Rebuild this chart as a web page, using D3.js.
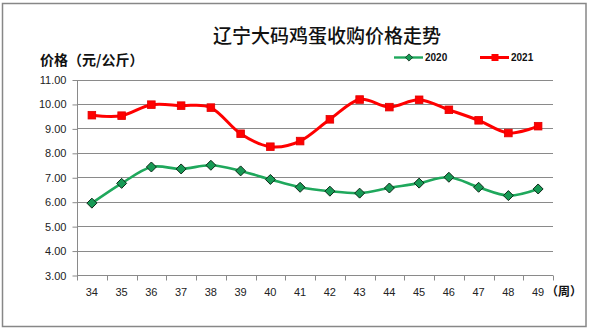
<!DOCTYPE html>
<html><head><meta charset="utf-8">
<script src="https://cdn.jsdelivr.net/npm/d3@7"></script>
<style>html,body{margin:0;padding:0;background:#fff;}svg{display:block;}</style>
</head><body>
<script>
const weeks = ["34","35","36","37","38","39","40","41","42","43","44","45","46","47","48","49"];
const series2020 = [5.94,6.75,7.42,7.34,7.49,7.26,6.91,6.59,6.43,6.35,6.56,6.76,7.00,6.59,6.25,6.52];
const series2021 = [9.54,9.52,9.97,9.93,9.85,8.78,8.25,8.48,9.37,10.18,9.87,10.17,9.76,9.33,8.81,9.09];
const yTicks = [3,4,5,6,7,8,9,10,11];
const seriesNames = ["2020","2021"];

const W = 595, H = 329;
const svg = d3.select("body").append("svg").attr("width", W).attr("height", H);

// frame
svg.append("rect").attr("x", 2.5).attr("y", 3.5).attr("width", 583.5).attr("height", 323)
  .attr("fill", "#fff").attr("stroke", "#878787").attr("stroke-width", 1.5);

const x = d3.scaleBand().domain(weeks).range([77, 553]);
const y = d3.scaleLinear().domain([3, 11]).range([275, 79.5]);

// gridlines
svg.append("g").selectAll("line").data(yTicks.slice(1)).join("line")
  .attr("x1", 77).attr("x2", 553)
  .attr("y1", d => Math.round(y(d)) + 0.5).attr("y2", d => Math.round(y(d)) + 0.5)
  .attr("stroke", "#8a8a8a").attr("stroke-width", 1);

// y axis
const yAxis = d3.axisLeft(y).tickValues(yTicks).tickFormat(d3.format(".2f")).tickSize(5).tickPadding(6);
const gy = svg.append("g").attr("transform", "translate(77.5,0.5)").call(yAxis);
gy.select(".domain").attr("stroke", "#8a8a8a").attr("d", "M0," + y(3) + "V" + y(11));
gy.selectAll(".tick line").attr("stroke", "#8a8a8a");
gy.selectAll(".tick text").attr("font-family", "Liberation Sans, sans-serif").attr("font-size", 11).attr("fill", "#222");

// x axis
const xAxis = d3.axisBottom(x).tickSize(0).tickPadding(13);
const gx = svg.append("g").attr("transform", "translate(0," + (Math.round(y(3)) + 0.5) + ")").call(xAxis);
gx.select(".domain").attr("stroke", "#8a8a8a").attr("d", "M77,0H553");
gx.selectAll(".tick text").attr("font-family", "Liberation Sans, sans-serif").attr("font-size", 11).attr("fill", "#222");
// category boundary ticks
const bounds = weeks.map(w => x(w)).concat([x(weeks[weeks.length - 1]) + x.bandwidth()]);
gx.append("g").selectAll("line").data(bounds).join("line")
  .attr("x1", d => Math.round(d) + 0.5).attr("x2", d => Math.round(d) + 0.5)
  .attr("y1", 0).attr("y2", 5).attr("stroke", "#8a8a8a");

const cx = w => x(w) + x.bandwidth() / 2;
const curve = d3.curveCardinal.tension(0);

// 2020 line
const line2020 = d3.line().x((d, i) => cx(weeks[i])).y(d => y(d)).curve(curve);
svg.append("path").attr("d", line2020(series2020)).attr("fill", "none")
  .attr("stroke", "#1fa85c").attr("stroke-width", 2.6);
// 2021 line
svg.append("path").attr("d", line2020(series2021)).attr("fill", "none")
  .attr("stroke", "#ff0000").attr("stroke-width", 3);

// markers 2020 diamonds
const dia = (cxp, cyp, r) => `M${cxp},${cyp - r}L${cxp + r},${cyp}L${cxp},${cyp + r}L${cxp - r},${cyp}Z`;
svg.append("g").selectAll("path").data(series2020).join("path")
  .attr("d", (d, i) => dia(cx(weeks[i]), y(d), 5))
  .attr("fill", "#179a55").attr("stroke", "#0d2a18").attr("stroke-width", 1);
// markers 2021 squares
svg.append("g").selectAll("rect").data(series2021).join("rect")
  .attr("x", (d, i) => cx(weeks[i]) - 3.8).attr("y", d => y(d) - 3.8)
  .attr("width", 7.6).attr("height", 7.6)
  .attr("fill", "#ff0000").attr("stroke", "#e00000").attr("stroke-width", 0.8);

// title
svg.append("text").attr("x", 327).attr("y", 43).attr("text-anchor", "middle")
  .attr("font-family", "Noto Sans CJK SC, sans-serif").attr("font-size", 19).attr("font-weight", 500)
  .attr("fill", "#111").text("辽宁大码鸡蛋收购价格走势");

// y title
svg.append("text").attr("x", 40).attr("y", 65)
  .attr("font-family", "Noto Sans CJK SC, sans-serif").attr("font-size", 14).attr("font-weight", "bold")
  .attr("fill", "#111").text("价格（元/公斤）");

// x unit
svg.append("text").attr("x", 546).attr("y", 296)
  .attr("font-family", "Noto Sans CJK SC, sans-serif").attr("font-size", 12).attr("font-weight", "bold")
  .attr("fill", "#111").text("（周）");

// legend
const lg = svg.append("g");
const legendItems = [
  {name: seriesNames[0], x: 394, color: "#1fa85c", type: "d"},
  {name: seriesNames[1], x: 480, color: "#ff0000", type: "s"}
];
legendItems.forEach(it => {
  lg.append("line").attr("x1", it.x).attr("x2", it.x + 29).attr("y1", 57.5).attr("y2", 57.5)
    .attr("stroke", it.color).attr("stroke-width", it.type === "d" ? 2.4 : 3);
  if (it.type === "d") {
    lg.append("path").attr("d", dia(it.x + 15, 57.5, 3.6)).attr("fill", "#179a55").attr("stroke", "#0d2a18").attr("stroke-width", 0.8);
  } else {
    lg.append("rect").attr("x", it.x + 11.5).attr("y", 54).attr("width", 7).attr("height", 7).attr("fill", "#ff0000");
  }
  lg.append("text").attr("x", it.x + 31).attr("y", 61)
    .attr("font-family", "Liberation Sans, sans-serif").attr("font-size", 10).attr("font-weight", "bold")
    .attr("fill", "#111").text(it.name);
});
</script>
</body></html>
